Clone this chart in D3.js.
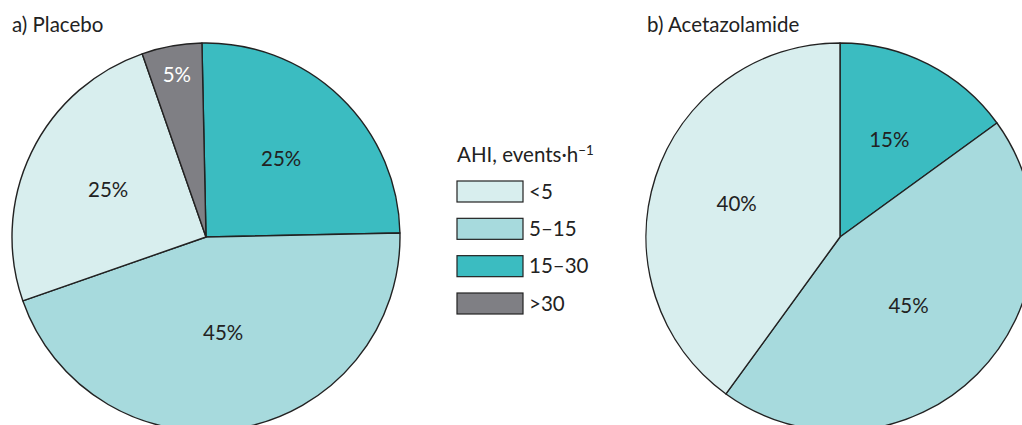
<!DOCTYPE html>
<html>
<head>
<meta charset="utf-8">
<script src="https://cdn.jsdelivr.net/npm/d3@7"></script>
<style>
  body { margin: 0; background: #fff; }
  svg { display: block; font-family: Lato, "Noto Sans", sans-serif; }
</style>
</head>
<body>
<svg id="chart" width="1022" height="425"></svg>
<script>
// AHI categories (legend order)
const categories = ["<5", "5–15", "15–30", ">30"];
const categoryColors = ["#d8eeee", "#a7dadd", "#3bbcc1", "#7f7f84"];

// slice order as drawn clockwise from 12 o'clock
const placeboOrder = ["15–30", "5–15", "<5", ">30"];
const placeboValues = [25, 45, 25, 5];

const acetazolamideOrder = ["15–30", "5–15", "<5"];
const acetazolamideValues = [15, 45, 40];

const panelTitles = ["a) Placebo", "b) Acetazolamide"];

const W = 1022, H = 425;
const R = 194;
const FONT = 20.5;

const svg = d3.select("#chart");
const color = d3.scaleOrdinal().domain(categories).range(categoryColors);

const arc = d3.arc().innerRadius(0).outerRadius(R);

function drawPie(cx, cy, order, values, title, titleX, rot) {
  const pie = d3.pie().sort(null).value(d => d.value)
    .startAngle(rot).endAngle(2 * Math.PI + rot);
  const data = order.map((k, i) => ({ key: k, value: values[i] }));
  const g = svg.append("g").attr("transform", `translate(${cx},${cy})`);

  g.selectAll("path.slice")
    .data(pie(data))
    .join("path")
    .attr("class", "slice")
    .attr("d", arc)
    .attr("fill", d => color(d.data.key))
    .attr("stroke", "#222")
    .attr("stroke-width", 1.4)
    .attr("stroke-linejoin", "round");

  g.selectAll("text.pct")
    .data(pie(data))
    .join("text")
    .attr("class", "pct")
    .attr("transform", d => {
      const r = d.data.value < 10 ? R * 0.85 : (d.data.value > 40 ? R * 0.5 : R * 0.56);
      const c = d3.arc().innerRadius(r).outerRadius(r).centroid(d);
      return `translate(${c[0]},${c[1]})`;
    })
    .attr("text-anchor", "middle")
    .attr("dy", "0.35em")
    .attr("font-size", FONT)
    .attr("fill", d => d.data.key === ">30" ? "#fff" : "#222")
    .text(d => d.data.value + "%");

  svg.append("text")
    .attr("x", titleX)
    .attr("y", 32)
    .attr("font-size", FONT)
    .attr("fill", "#222")
    .text(title);
}

drawPie(206, 237, placeboOrder, placeboValues, panelTitles[0], 12, -0.021);
drawPie(840, 237, acetazolamideOrder, acetazolamideValues, panelTitles[1], 647, 0);

// legend
const legend = svg.append("g").attr("transform", "translate(457,0)");
const lt = legend.append("text")
  .attr("x", 0).attr("y", 162)
  .attr("font-size", FONT)
  .attr("fill", "#222")
  .text("AHI, events·h");
lt.append("tspan")
  .attr("dy", -7)
  .attr("font-size", FONT * 0.65)
  .text("−1");

const legendY = d3.scalePoint().domain(categories).range([181, 293]);

const items = legend.selectAll("g.item")
  .data(categories)
  .join("g")
  .attr("class", "item")
  .attr("transform", d => `translate(0,${legendY(d)})`);

items.append("rect")
  .attr("width", 66).attr("height", 21)
  .attr("fill", d => color(d))
  .attr("stroke", "#222")
  .attr("stroke-width", 1.2);

items.append("text")
  .attr("x", 72).attr("y", 17.5)
  .attr("font-size", FONT)
  .attr("fill", "#222")
  .text(d => d);
</script>
</body>
</html>
